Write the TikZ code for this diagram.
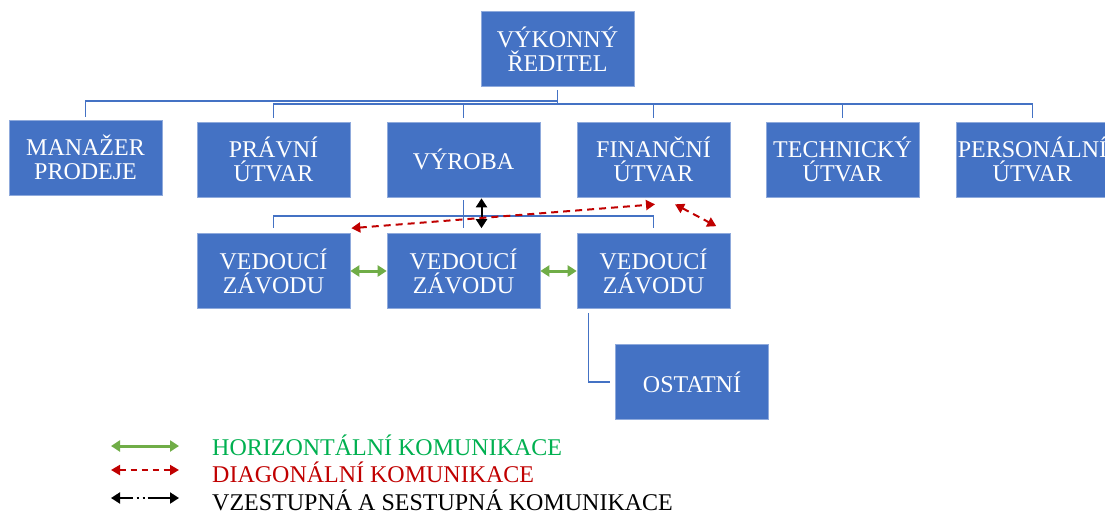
\documentclass[tikz,border=0pt]{standalone}
\usepackage{fontspec}
\setmainfont{Liberation Serif}
\usetikzlibrary{arrows.meta}
\definecolor{boxblue}{HTML}{4472C4}
\definecolor{boxedge}{HTML}{8FAADC}
\definecolor{arrgreen}{HTML}{70AD47}
\definecolor{txtgreen}{HTML}{00B050}
\definecolor{darkred}{HTML}{C00000}
\tikzset{
  unit/.style={fill=boxblue, draw=boxedge, line width=0.6pt, text=white,
    minimum width=153pt, minimum height=75pt, inner sep=0pt, align=center,
    font=\fontsize{24}{24}\selectfont},
  conn/.style={draw=boxblue, line width=1.1pt},
  tips/.style={{Triangle[length=9pt,width=11pt]}-{Triangle[length=9pt,width=11pt]}},
  horiz/.style={draw=arrgreen, line width=3pt, tips},
  diag/.style={draw=darkred, line width=2pt, dash pattern=on 7pt off 5pt,
    {Triangle[length=9pt,width=10pt]}-{Triangle[length=9pt,width=10pt]}},
  vert/.style={draw=black, line width=2pt, tips},
  vertleg/.style={draw=black, line width=2pt,
    dash pattern=on 13pt off 4pt on 2pt off 4pt on 2pt off 3pt on 30pt off 0pt, tips},
  legtext/.style={anchor=base west, inner sep=0pt, font=\fontsize{24}{24}\selectfont},
}
\begin{document}
\begin{tikzpicture}[x=1pt, y=-1pt]
\useasboundingbox (0,0) rectangle (1105,515);

% top management
\node[unit] (ceo) at (557.5,49) {VÝKONNÝ\\ŘEDITEL};

% departments
\node[unit] (man) at (85.5,157.5) {MANAŽER\\PRODEJE};
\node[unit] (law) at (273.5,159.5) {PRÁVNÍ\\ÚTVAR};
\node[unit] (vyr) at (463.5,159.5) {VÝROBA};
\node[unit] (fin) at (653.5,159.5) {FINANČNÍ\\ÚTVAR};
\node[unit] (tech) at (842.5,159.5) {TECHNICKÝ\\ÚTVAR};
\node[unit] (pers) at (1032.5,159.5) {PERSONÁLNÍ\\ÚTVAR};

% plant managers
\node[unit] (v1) at (273.5,271) {VEDOUCÍ\\ZÁVODU};
\node[unit] (v2) at (463.5,271) {VEDOUCÍ\\ZÁVODU};
\node[unit] (v3) at (653.5,271) {VEDOUCÍ\\ZÁVODU};
\node[unit] (ost) at (692,382) {OSTATNÍ};

% reporting lines from the director
\draw[conn] ([yshift=-3pt]ceo.south) -- (ceo.south |- 0,104);
\draw[conn] (ceo.south |- 0,101) -| ([yshift=3pt]man.north);
\foreach \d in {law,vyr,fin,tech,pers}
  \draw[conn] (ceo.south |- 0,104) -| ([yshift=3.5pt]\d.north);

% reporting lines from production
\draw[conn] ([yshift=-3pt]vyr.south) -- ([yshift=5pt]v2.north);
\draw[conn] (vyr.south |- 0,216) -| ([yshift=5pt]v1.north);
\draw[conn] (vyr.south |- 0,216) -| ([yshift=5pt]v3.north);
\draw[conn] ([xshift=12pt,yshift=-4pt]v3.south west) |- ([xshift=-5pt]ost.west);

% communication flows
\draw[horiz] (v1.east) -- (v2.west);
\draw[horiz] (v2.east) -- (v3.west);
\draw[vert] ([xshift=18pt,yshift=-1pt]vyr.south) -- ([xshift=18pt,yshift=5pt]v2.north);
\draw[diag] ([xshift=1pt,yshift=5pt]v1.north east) -- ([xshift=1.5pt,yshift=-7pt]fin.south);
\draw[diag] ([xshift=21.5pt,yshift=-7pt]fin.south) -- ([xshift=-14pt,yshift=7pt]v3.north east);

% legend
\coordinate (lg1a) at (111,446);
\coordinate (lg1b) at (179,446);
\coordinate (lg2a) at (111,470);
\coordinate (lg2b) at (179,470);
\coordinate (lg3a) at (111,498);
\coordinate (lg3b) at (179,498);
\draw[horiz] (lg1a) -- (lg1b);
\draw[diag, dash pattern=on 6pt off 5pt] (lg2a) -- (lg2b);
\draw[vertleg] (lg3a) -- (lg3b);
\node[legtext, text=txtgreen] (l1) at (212,455) {HORIZONTÁLNÍ KOMUNIKACE};
\node[legtext, text=darkred] (l2) at (212,482) {DIAGONÁLNÍ KOMUNIKACE};
\node[legtext] (l3) at (212,510) {VZESTUPNÁ A SESTUPNÁ KOMUNIKACE};
\end{tikzpicture}
\end{document}
